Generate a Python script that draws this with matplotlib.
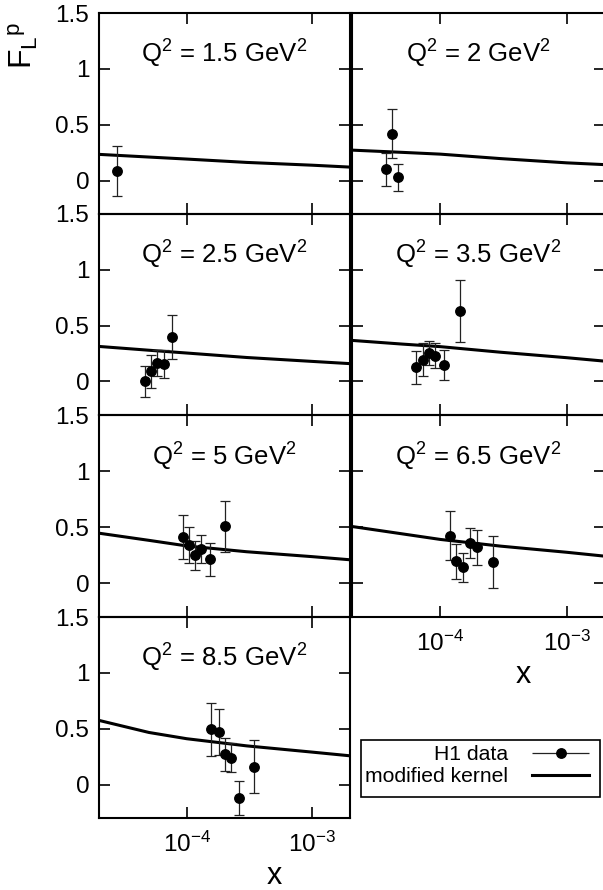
import numpy as np
import matplotlib
matplotlib.use("Agg")
import matplotlib.pyplot as plt
from matplotlib.container import ErrorbarContainer
from matplotlib.legend_handler import HandlerErrorbar
from matplotlib.patches import Rectangle

plt.rcParams.update({"font.family": ["Liberation Sans", "DejaVu Sans"],
                     "mathtext.default": "regular",
                     "font.size": 17})

# ── data ──────────────────────────────────────────────────────────
Q2_LABELS = ["1.5", "2", "2.5", "3.5", "5", "6.5", "8.5"]

# modified kernel curve, read at a few x values
CURVE_X = [2e-5, 5e-5, 1e-4, 3e-4, 1e-3, 2e-3]
CURVE_Y = [
    [0.234, 0.210, 0.192, 0.162, 0.137, 0.120],
    [0.272, 0.252, 0.236, 0.196, 0.158, 0.142],
    [0.314, 0.280, 0.255, 0.215, 0.180, 0.160],
    [0.368, 0.335, 0.312, 0.262, 0.213, 0.182],
    [0.446, 0.382, 0.332, 0.280, 0.236, 0.208],
    [0.506, 0.440, 0.390, 0.330, 0.275, 0.240],
    [0.574, 0.466, 0.410, 0.346, 0.290, 0.257],
]

# H1 data points
H1_X = [
    [2.78e-5],
    [3.69e-5, 4.12e-5, 4.60e-5],
    [4.63e-5, 5.24e-5, 5.80e-5, 6.59e-5, 7.64e-5],
    [6.44e-5, 7.22e-5, 8.07e-5, 9.12e-5, 1.06e-4, 1.42e-4],
    [9.35e-5, 1.04e-4, 1.17e-4, 1.31e-4, 1.52e-4, 2.03e-4],
    [1.20e-4, 1.34e-4, 1.52e-4, 1.71e-4, 1.96e-4, 2.61e-4],
    [1.57e-4, 1.80e-4, 2.01e-4, 2.27e-4, 2.61e-4, 3.46e-4],
]
H1_Y = [
    [0.084],
    [0.099, 0.420, 0.030],
    [0.000, 0.090, 0.165, 0.156, 0.399],
    [0.126, 0.195, 0.255, 0.231, 0.144, 0.629],
    [0.410, 0.342, 0.247, 0.304, 0.214, 0.506],
    [0.425, 0.193, 0.140, 0.357, 0.318, 0.188],
    [0.494, 0.470, 0.270, 0.240, -0.121, 0.160],
]
H1_ERR = [
    [0.225],
    [0.150, 0.220, 0.120],
    [0.140, 0.150, 0.120, 0.125, 0.197],
    [0.150, 0.150, 0.105, 0.110, 0.135, 0.277],
    [0.195, 0.160, 0.128, 0.123, 0.148, 0.227],
    [0.220, 0.160, 0.130, 0.134, 0.160, 0.230],
    [0.240, 0.207, 0.145, 0.130, 0.155, 0.240],
]

# ── layout (pixels) ───────────────────────────────────────────────
W, H = 603, 890
fig = plt.figure(figsize=(W / 100, H / 100), dpi=100)

ROW_TOP = [13, 214, 415.5, 617]
ROW_H = 201
COL_X = [99, 352]
COL_W = [251, 253]

panel_pos = [(0, 0), (0, 1), (1, 0), (1, 1), (2, 0), (2, 1), (3, 0)]

axes = []
for i, (r, c) in enumerate(panel_pos):
    ax = fig.add_axes([COL_X[c] / W, 1 - (ROW_TOP[r] + ROW_H) / H,
                       COL_W[c] / W, ROW_H / H])
    ax.set_xscale("log")
    ax.set_xlim(2e-5, 2e-3)
    ax.set_ylim(-0.3, 1.5)
    ax.set_xticks([1e-4, 1e-3])
    ax.xaxis.set_minor_locator(matplotlib.ticker.NullLocator())
    ax.set_yticks([0, 0.5, 1, 1.5])
    ax.set_yticklabels(["0", "0.5", "1", "1.5"])
    ax.set_xticklabels(["$10^{-4}$", "$10^{-3}$"])
    ax.tick_params(direction="in", top=True, right=True, length=8,
                   width=1.2, labelsize=17.5, pad=7)
    ax.tick_params(axis="x", pad=10)
    for s in ax.spines.values():
        s.set_linewidth(1.5)
    ax.patch.set_alpha(0)

    ax.plot(CURVE_X, CURVE_Y[i], color="black", lw=2.2, zorder=3)
    ax.errorbar(H1_X[i], H1_Y[i], yerr=H1_ERR[i], fmt="o",
                color="black", ms=6.8, ecolor="#222222",
                elinewidth=0.9, capsize=3.5, capthick=0.9, zorder=4)
    ax.text(0.5, 0.795, f"$Q^2$ = {Q2_LABELS[i]} GeV$^2$",
            transform=ax.transAxes, ha="center", va="center", fontsize=18.5)

    if c == 1:
        ax.tick_params(labelleft=False)
    if i not in (5, 6):
        ax.tick_params(labelbottom=False)
    else:
        ax.set_xlabel("x", fontsize=22, labelpad=0)
        ax.xaxis.set_label_coords(0.70 if c == 0 else 0.676, -0.215)
    axes.append(ax)

fig.text(23 / W, 1 - 46 / H, "$F_L{}^p$", rotation=90, fontsize=23,
         ha="center", va="center")

# legend
h_data = axes[0].errorbar([], [], xerr=[], fmt="o", color="black", ms=6.8,
                          ecolor="#222222", elinewidth=0.9, capsize=3.5,
                          capthick=0.9)
h_line, = axes[0].plot([], [], color="black", lw=2.2)
leg = fig.legend([h_data, h_line], ["H1 data", "modified kernel"],
                 loc="upper right", bbox_to_anchor=(589 / W, 1 - 745 / H),
                 markerfirst=False, frameon=False, fontsize=15.2,
                 borderpad=0, labelspacing=0.16, handlelength=2.7,
                 handletextpad=1.15, borderaxespad=0,
                 handler_map={ErrorbarContainer: HandlerErrorbar(xerr_size=1.35)})
fig.patches.append(Rectangle((361 / W, 1 - 797 / H), 239 / W, 57 / H,
                             transform=fig.transFigure, fill=False,
                             lw=1.2, ec="black"))

fig.savefig("out.png", dpi=100)
